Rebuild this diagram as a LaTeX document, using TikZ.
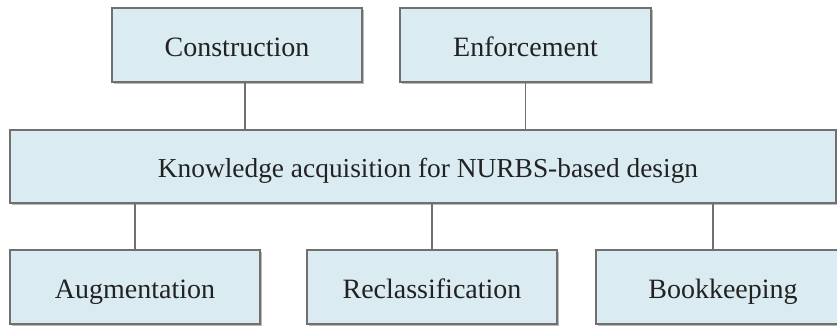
\documentclass[tikz,border=0pt]{standalone}
\usepackage{fontspec}
\setmainfont{Liberation Serif}
\usetikzlibrary{shadows}
\definecolor{boxfill}{HTML}{DAEBF2}
\definecolor{boxline}{HTML}{707070}
\definecolor{txt}{HTML}{222222}
\begin{document}
\begin{tikzpicture}[x=1pt,y=-1pt,
  blk/.style={draw=boxline, line width=1.2pt, fill=boxfill, text=txt,
    minimum width=250pt, minimum height=74pt, inner sep=0pt,
    text height=23pt, text depth=1pt,
    font=\fontsize{28}{32}\selectfont,
    drop shadow={shadow xshift=2pt, shadow yshift=-2pt, opacity=0.45, fill=black!60}},
  link/.style={draw=boxline, line width=1.2pt}]
\useasboundingbox (0,0) rectangle (837,325);
\fill[white] (0,0) rectangle (837,325);
% upper row
\node[blk] (cons) at (237,45) {Construction};
\node[blk, minimum width=251pt] (enf) at (525.5,45) {Enforcement};
% central box, title set slightly right of centre
\node[blk, minimum width=826pt, minimum height=73pt,
      font=\fontsize{27.4}{32}\selectfont] (main) at (423,166.5)
      {\hspace*{10pt}Knowledge acquisition for NURBS-based design};
% lower row
\node[blk] (aug) at (135,287) {Augmentation};
\node[blk] (recl) at (432,287) {Reclassification};
\node[blk, minimum width=254pt] (book) at (723,287) {Bookkeeping};
% connectors
\draw[link] ([xshift=8pt]cons.south) -- ([xshift=8pt]cons.south |- main.north);
\draw[link] (enf.south) -- (enf.south |- main.north);
\draw[link] (aug.north |- main.south) -- (aug.north);
\draw[link] (recl.north |- main.south) -- (recl.north);
\draw[link] ([xshift=-10pt]book.north |- main.south) -- ([xshift=-10pt]book.north);
\end{tikzpicture}
\end{document}
